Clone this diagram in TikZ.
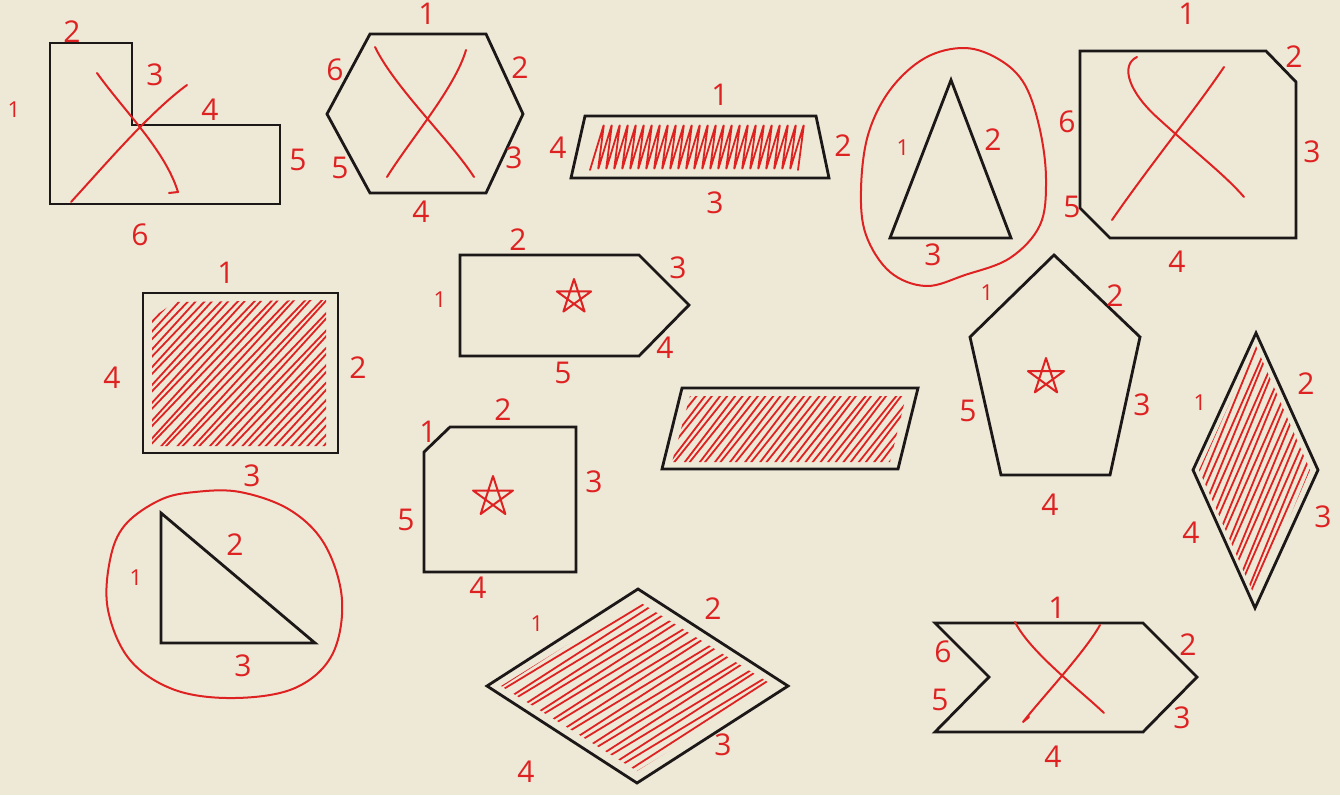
\documentclass[tikz,border=0pt]{standalone}
\usepackage{fontspec}
\setmainfont{Open Sans}
\definecolor{paper}{RGB}{238,232,215}
\definecolor{ink}{RGB}{28,24,24}
\definecolor{pen}{RGB}{222,34,34}
\tikzset{
  outline/.style={draw=ink, line width=2.8pt, line join=miter},
  redpen/.style={draw=pen, line width=2pt, line cap=round, line join=round},
  hatch/.style={draw=pen, line width=1.8pt, line cap=round, line join=round},
  lbl/.style={text=pen, font=\fontsize{30}{32}\selectfont, inner sep=0pt},
  lbls/.style={text=pen, font=\fontsize{22}{24}\selectfont, inner sep=0pt},
}
% zigzag hatch: cx, cy, rotation, count, spacing
\newcommand\zigzag[5]{%
  \begin{scope}[shift={(#1,#2)},rotate=#3]
    \pgfmathsetmacro\zs{#5/2}
    \draw[hatch] ({-#4*#5/2},-250) \foreach \k in {1,...,#4}{ -- ++(\zs,500) -- ++(\zs,-500)};
  \end{scope}}
% hand star: cx, cy, radius
\newcommand\handstar[3]{%
  \draw[redpen, shift={(#1,#2)}] (-90:#3) -- (54:#3) -- (198:#3) -- (342:#3) -- (126:#3) -- cycle;}
\begin{document}
\begin{tikzpicture}[x=1pt,y=-1pt]
\fill[paper] (0,0) rectangle (1340,795);
\path[use as bounding box] (0,0) rectangle (1340,795);

% ---------- hatching ----------
% trapezoid
\draw[hatch, rounded corners=2.5pt] (590,170) \foreach \k in {1,...,26}{ -- ++(14,-46) -- ++(-6,46)};
% shaded rectangle
\begin{scope}
  \clip (152,318) -- (175,302) -- (326,300) -- (326,446) -- (152,446) -- cycle;
  \zigzag{240}{373}{-43}{22}{12}
\end{scope}
% parallelogram
\begin{scope}
  \clip (690,396) -- (906,396) -- (890,462) -- (672,462) -- cycle;
  \zigzag{790}{428}{-38}{21}{12}
\end{scope}
% right rhombus
\begin{scope}
  \clip (1256,346) -- (1310,470) -- (1255,597) -- (1199,470) -- cycle;
  \zigzag{1255}{470}{-23}{20}{12}
\end{scope}
% bottom rhombus
\begin{scope}
  \clip (638,601) -- (774,686) -- (637,771) -- (501,686) -- cycle;
  \zigzag{637}{686}{-58}{25}{14}
\end{scope}

% ---------- black outlines ----------
\draw[outline] (50,43) -- (132,43) -- (132,125) -- (280,125) -- (280,204) -- (50,204) -- cycle;
\draw[outline] (370,34) -- (486,34) -- (523,114) -- (486,193) -- (370,193) -- (327,114) -- cycle;
\draw[outline] (585,116) -- (816,116) -- (829,178) -- (571,178) -- cycle;
\draw[outline] (951,80) -- (1011,238) -- (890,238) -- cycle;
\draw[outline] (1080,51) -- (1266,51) -- (1296,82) -- (1296,238) -- (1110,238) -- (1080,208) -- cycle;
\draw[outline] (143,293) rectangle (338,453);
\draw[outline] (460,255) -- (639,255) -- (689,305) -- (639,356) -- (460,356) -- cycle;
\draw[outline] (424,452) -- (450,427) -- (576,427) -- (576,572) -- (424,572) -- cycle;
\draw[outline] (682,388) -- (918,388) -- (898,469) -- (662,469) -- cycle;
\draw[outline] (1054,255) -- (1140,337) -- (1110,475) -- (1001,475) -- (970,337) -- cycle;
\draw[outline] (1256,333) -- (1318,470) -- (1255,608) -- (1193,470) -- cycle;
\draw[outline] (161,513) -- (315,643) -- (161,643) -- cycle;
\draw[outline] (638,589) -- (788,686) -- (637,783) -- (487,686) -- cycle;
\draw[outline] (935,623) -- (1143,623) -- (1197,677) -- (1143,732) -- (935,732) -- (989,677) -- cycle;

% ---------- red crosses ----------
\draw[redpen] (71,202) .. controls (105,165) and (150,112) .. (187,85);
\draw[redpen] (97,73) .. controls (125,112) and (165,150) .. (178,192) -- (169,193);
\draw[redpen] (375,47) .. controls (395,88) and (450,140) .. (474,177);
\draw[redpen] (466,50) .. controls (455,88) and (410,140) .. (387,177);
\draw[redpen] (1137,57) .. controls (1120,65) and (1128,92) .. (1160,120) .. controls (1195,152) and (1225,175) .. (1244,197);
\draw[redpen] (1224,67) .. controls (1195,110) and (1150,165) .. (1112,220);
\draw[redpen] (1015,622) .. controls (1030,652) and (1080,690) .. (1104,713);
\draw[redpen] (1100,625) .. controls (1085,652) and (1040,700) .. (1023,722) -- (1029,717);

% ---------- red loops ----------
\draw[redpen] plot[smooth cycle, tension=0.6] coordinates {(965,48) (1000,60) (1025,85) (1040,130) (1046,180) (1040,225) (1010,258) (965,275) (926,286) (890,272) (866,235) (861,190) (868,135) (890,90) (925,58)};
\draw[redpen] plot[smooth cycle, tension=0.6] coordinates {(195,492) (240,492) (290,510) (325,545) (342,600) (332,655) (295,688) (235,698) (175,690) (130,660) (108,610) (110,560) (125,525) (160,500)};

% ---------- stars ----------
\handstar{574}{297}{18}
\handstar{493}{497}{21}
\handstar{1046}{377}{19}

% ---------- labels ----------
% L-shape
\node[lbl]  (L2) at (72,32)   {2};
\node[lbls] (L1) at (14,110)  {1};
\node[lbl]  (L3) at (155,75)  {3};
\node[lbl]  (L4) at (210,110) {4};
\node[lbl]  (L5) at (298,160) {5};
\node[lbl]  (L6) at (140,235) {6};
% hexagon
\node[lbl] (H1) at (427,14)  {1};
\node[lbl] (H6) at (335,70)  {6};
\node[lbl] (H2) at (520,68)  {2};
\node[lbl] (H3) at (514,158) {3};
\node[lbl] (H5) at (340,168) {5};
\node[lbl] (H4) at (421,212) {4};
% trapezoid
\node[lbl] (T1) at (720,95)  {1};
\node[lbl] (T4) at (558,148) {4};
\node[lbl] (T2) at (843,146) {2};
\node[lbl] (T3) at (715,203) {3};
% triangle
\node[lbls] (A1) at (903,148) {1};
\node[lbl]  (A2) at (993,140) {2};
\node[lbl]  (A3) at (933,255) {3};
% chamfered rectangle
\node[lbl] (C1) at (1187,14)  {1};
\node[lbl] (C2) at (1294,57)  {2};
\node[lbl] (C6) at (1067,122) {6};
\node[lbl] (C3) at (1312,152) {3};
\node[lbl] (C5) at (1072,207) {5};
\node[lbl] (C4) at (1177,262) {4};
% shaded rectangle
\node[lbl] (R1) at (226,273) {1};
\node[lbl] (R4) at (112,378) {4};
\node[lbl] (R2) at (358,368) {2};
\node[lbl] (R3) at (252,476) {3};
% arrow pentagon
\node[lbl]  (P2) at (518,240) {2};
\node[lbl]  (P3) at (678,268) {3};
\node[lbls] (P1) at (440,300) {1};
\node[lbl]  (P4) at (665,348) {4};
\node[lbl]  (P5) at (563,373) {5};
% chamfered square
\node[lbl] (S1) at (428,432) {1};
\node[lbl] (S2) at (503,410) {2};
\node[lbl] (S3) at (594,482) {3};
\node[lbl] (S5) at (406,520) {5};
\node[lbl] (S4) at (478,588) {4};
% pentagon
\node[lbls] (G1) at (987,293)  {1};
\node[lbl]  (G2) at (1115,296) {2};
\node[lbl]  (G5) at (968,411)  {5};
\node[lbl]  (G3) at (1142,405) {3};
\node[lbl]  (G4) at (1050,505) {4};
% right rhombus
\node[lbls] (D1) at (1200,403) {1};
\node[lbl]  (D2) at (1306,384) {2};
\node[lbl]  (D3) at (1323,517) {3};
\node[lbl]  (D4) at (1191,533) {4};
% right triangle
\node[lbls] (Q1) at (136,578) {1};
\node[lbl]  (Q2) at (235,545) {2};
\node[lbl]  (Q3) at (243,666) {3};
% bottom rhombus
\node[lbls] (B1) at (537,624) {1};
\node[lbl]  (B2) at (713,609) {2};
\node[lbl]  (B3) at (723,745) {3};
\node[lbl]  (B4) at (526,772) {4};
% chevron
\node[lbl] (V1) at (1057,608) {1};
\node[lbl] (V2) at (1188,645) {2};
\node[lbl] (V3) at (1182,718) {3};
\node[lbl] (V6) at (943,652)  {6};
\node[lbl] (V5) at (940,700)  {5};
\node[lbl] (V4) at (1053,757) {4};
\end{tikzpicture}
\end{document}
